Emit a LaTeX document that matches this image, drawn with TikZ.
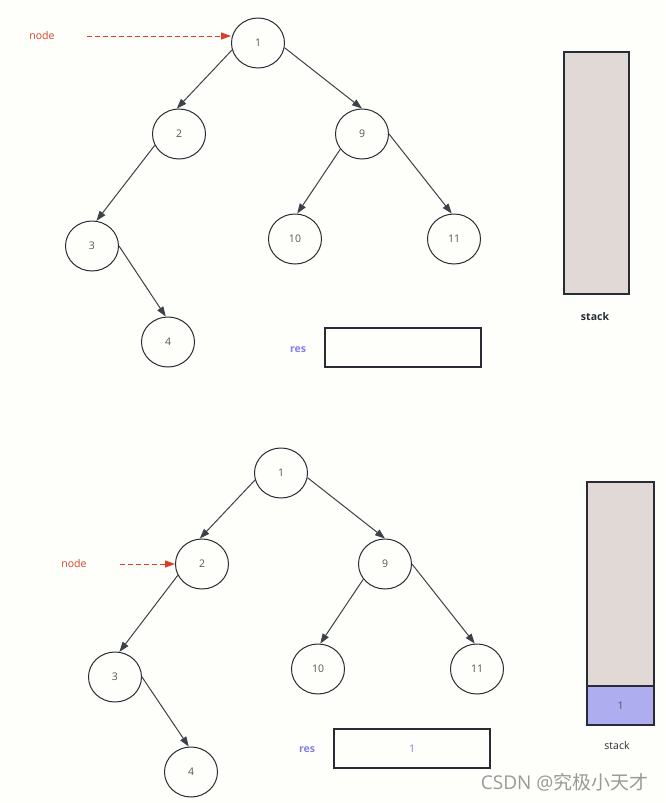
\documentclass[tikz,border=0pt]{standalone}
\usepackage{fontspec}
\setmainfont{Open Sans}
\newfontfamily\cjk{Noto Sans CJK SC}
\usetikzlibrary{shapes.geometric,arrows.meta}
\definecolor{bgc}{RGB}{254,254,251}
\definecolor{ink}{RGB}{40,44,52}
\definecolor{stackfill}{RGB}{224,217,214}
\definecolor{pushfill}{RGB}{173,173,240}
\definecolor{resblue}{RGB}{128,128,240}
\definecolor{nodered}{RGB}{220,60,40}
\begin{document}
\begin{tikzpicture}[x=1pt,y=-1pt,
  tnode/.style={ellipse,draw=ink,line width=1pt,minimum width=53pt,minimum height=50pt,inner sep=0pt,font=\fontsize{10.5}{11}\selectfont,text=ink!80},
  edge/.style={draw=ink!90,line width=1pt,-{Triangle[length=10pt,width=7pt]}},
  ptr/.style={draw=nodered,line width=1pt,dashed,dash pattern=on 5pt off 3pt,-{Triangle[length=10pt,width=7pt]}},
  ptrlabel/.style={text=nodered,font=\fontsize{10.5}{11}\selectfont},
  stackbox/.style={draw=ink,line width=1.2pt,fill=stackfill},
  pushbox/.style={draw=ink,line width=1.2pt,fill=pushfill,font=\fontsize{10.5}{11}\selectfont,text=ink!80},
  resbox/.style={draw=ink,line width=1.2pt,fill=bgc},
  reslabel/.style={text=resblue,font=\bfseries\fontsize{10.5}{11}\selectfont}]
\fill[bgc] (0,0) rectangle (665,803);
\useasboundingbox (0,0) rectangle (665,803);

% ---- top panel ----
\node[tnode] (a1) at (258,43) {1};
\node[tnode] (a2) at (179,134) {2};
\node[tnode] (a9) at (362,134) {9};
\node[tnode] (a3) at (92,246) {3};
\node[tnode] (a10) at (295,239) {10};
\node[tnode] (a11) at (454,239) {11};
\node[tnode] (a4) at (168,342) {4};
\draw[edge] (a1.195) -- (a2.95);
\draw[edge] (a1.-10) -- (a9.90);
\draw[edge] (a2.205) -- (a3.80);
\draw[edge] (a9.215) -- (a10.85);
\draw[edge] (a9.0) -- (a11.95);
\draw[edge] (a3.0) -- (a4.95);
\node[ptrlabel] (pa) at (42,36) {node};
\coordinate (pas) at (87,36);
\draw[ptr] (pas) -- (a1.west |- pas);
\node[stackbox,minimum width=65pt,minimum height=242pt,inner sep=0pt] (sa) at (596.5,173) {};
\node[font=\bfseries\fontsize{10.5}{11}\selectfont,text=ink] (sal) at (595,317) {stack};
\node[reslabel] (ral) at (298,350) {res};
\node[resbox,minimum width=156pt,minimum height=39pt,inner sep=0pt] (ra) at (403,347.5) {};

% ---- bottom panel ----
\node[tnode] (b1) at (281,473) {1};
\node[tnode] (b2) at (202,564) {2};
\node[tnode] (b9) at (385,564) {9};
\node[tnode] (b3) at (115,677) {3};
\node[tnode] (b10) at (318,669) {10};
\node[tnode] (b11) at (477,669) {11};
\node[tnode] (b4) at (191,772) {4};
\draw[edge] (b1.195) -- (b2.95);
\draw[edge] (b1.-10) -- (b9.90);
\draw[edge] (b2.205) -- (b3.80);
\draw[edge] (b9.215) -- (b10.85);
\draw[edge] (b9.0) -- (b11.95);
\draw[edge] (b3.0) -- (b4.95);
\node[ptrlabel] (pb) at (74,564) {node};
\coordinate (pbs) at (120,564);
\draw[ptr] (pbs) -- (b2.west);
\node[stackbox,minimum width=67pt,minimum height=242pt,inner sep=0pt] (sb) at (620.5,603) {};
\node[pushbox,minimum width=67pt,minimum height=39pt,inner sep=0pt] (sb1) at (620.5,705.5) {1};
\node[font=\fontsize{10.5}{11}\selectfont,text=ink] (sbl) at (617,746) {stack};
\node[reslabel] (rbl) at (307,750) {res};
\node[resbox,minimum width=156pt,minimum height=39pt,inner sep=0pt,text=resblue,font=\fontsize{10.5}{11}\selectfont] (rb) at (412,748.5) {1};

\node[text=black!40,font=\fontsize{19}{21}\selectfont,anchor=east] (wm) at (652,782) {CSDN @{\cjk 究极小天才}};
\end{tikzpicture}
\end{document}
